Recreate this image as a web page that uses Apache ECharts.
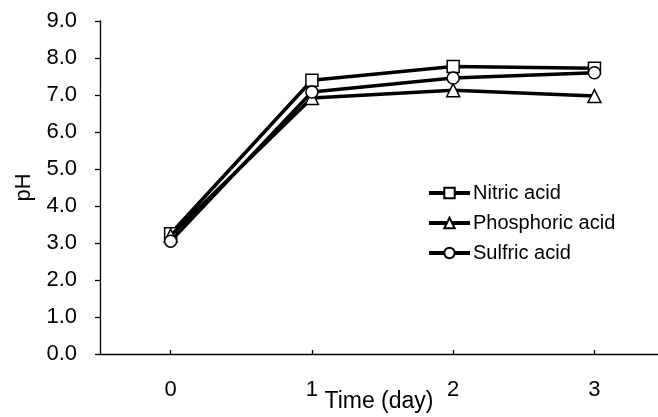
<!DOCTYPE html>
<html><head><meta charset="utf-8">
<script src="https://cdn.jsdelivr.net/npm/echarts@6/dist/echarts.min.js"></script>
<style>html,body{margin:0;padding:0;background:#fff}#c{width:658px;height:417px}</style>
</head><body><div id="c"></div>
<script>
var days = [0, 1, 2, 3];
var nitric = [3.25, 7.40, 7.77, 7.72];
var phosphoric = [3.20, 6.92, 7.13, 6.97];
var sulfric = [3.05, 7.08, 7.46, 7.60];
var yTicks = [0, 1, 2, 3, 4, 5, 6, 7, 8, 9];
var names = ['Nitric acid', 'Phosphoric acid', 'Sulfric acid'];
var symbols = ['rect', 'triangle', 'circle'];
var FONT = 'Liberation Sans, Arial, sans-serif';

function pairs(arr){ return days.map(function(d,i){ return [d, arr[i]]; }); }
var allData = [nitric, phosphoric, sulfric];

var chart = echarts.init(document.getElementById('c'), null, {renderer:'canvas'});
chart.setOption({
  animation: false,
  backgroundColor: '#fff',
  grid: {left: 100, right: 0, top: 21, bottom: 63, containLabel: false, outerBoundsMode: 'none'},
  xAxis: {
    type: 'value', min: -0.5, max: 3.45,
    name: 'Time (day)', nameLocation: 'middle', nameGap: 36, nameMoveOverlap: false,
    nameTextStyle: {color: '#000', fontSize: 23, fontFamily: FONT},
    splitLine: {show: false},
    axisLine: {onZero: false, lineStyle: {color: '#000', width: 1.3}},
    axisTick: {show: true, inside: true, length: 4, customValues: days, lineStyle: {color: '#000', width: 1.3}},
    axisLabel: {customValues: days, margin: 25, color: '#000', fontSize: 22, fontFamily: FONT}
  },
  yAxis: {
    type: 'value', min: 0, max: 9, interval: 1,
    name: 'pH', nameLocation: 'middle', nameGap: 65, nameMoveOverlap: false,
    nameTextStyle: {color: '#000', fontSize: 22, fontFamily: FONT},
    splitLine: {show: false},
    axisLine: {show: true, onZero: false, lineStyle: {color: '#000', width: 1.3}},
    axisTick: {show: true, length: 5, lineStyle: {color: '#000', width: 1.3}},
    axisLabel: {margin: 23, color: '#000', fontSize: 22, fontFamily: FONT,
      formatter: function(v){ return v.toFixed(1); }}
  },
  legend: {
    orient: 'vertical', left: 427, top: 183, padding: 0,
    itemWidth: 41, itemHeight: 13, itemGap: 10,
    lineStyle: {width: 4, color: '#000'},
    textStyle: {color: '#000', fontSize: 20, fontFamily: FONT, padding: [0,0,0,-2]},
    data: names
  },
  series: names.map(function(n, i){
    return {
      name: n, type: 'line', data: pairs(allData[i]),
      symbol: symbols[i], symbolSize: symbols[i] === 'triangle' ? 13 : 12,
      showAllSymbol: true,
      lineStyle: {color: '#000', width: 3.5},
      itemStyle: {color: '#fff', borderColor: '#000', borderWidth: 1.5},
      z: 2 + i
    };
  })
});
</script></body></html>
